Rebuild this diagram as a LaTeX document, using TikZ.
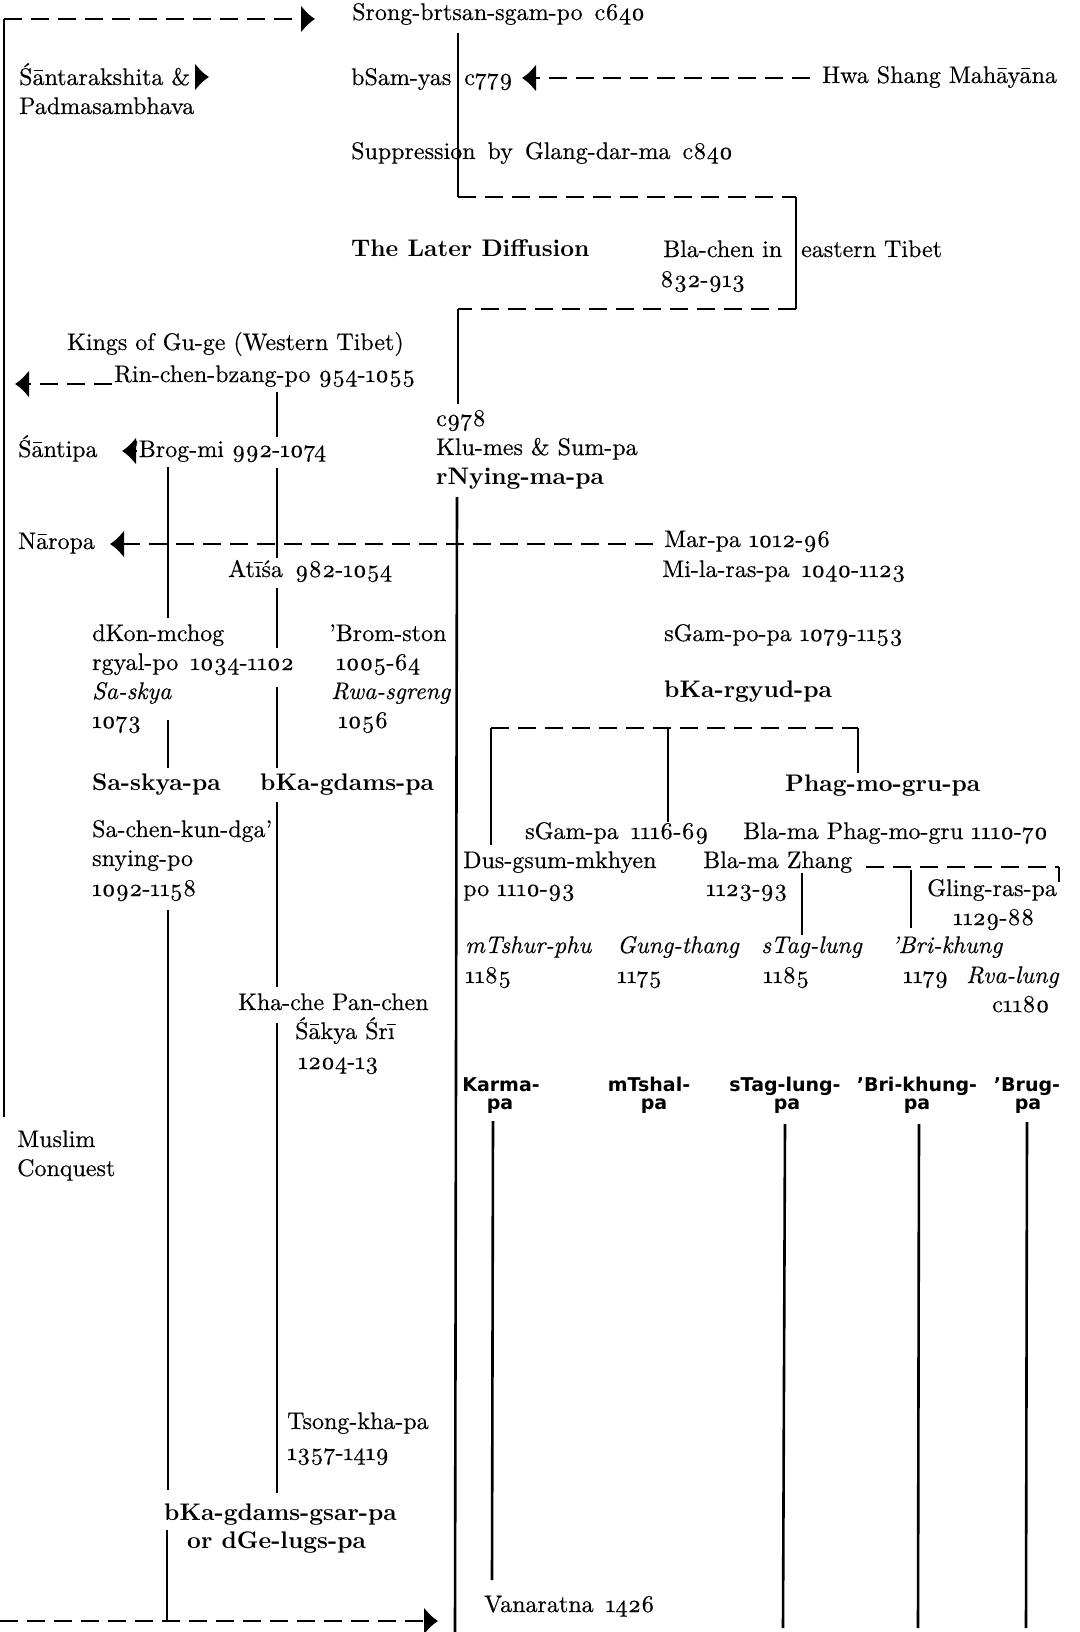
\documentclass[tikz,border=0pt]{standalone}
\usepackage{fontspec}
\setmainfont{lmroman10-regular.otf}[BoldFont=lmroman10-bold.otf,ItalicFont=lmroman10-italic.otf,BoldItalicFont=lmroman10-bolditalic.otf,Numbers=OldStyle,UprightFeatures={FakeBold=0.4},ItalicFeatures={FakeBold=0.4}]
\newfontfamily\labfont{DejaVu Sans}
\usetikzlibrary{arrows.meta}
\tikzset{
  txt/.style={anchor=base west,inner sep=0pt,font=\fontsize{24}{29}\selectfont},
  btxt/.style={anchor=base west,inner sep=0pt,font=\fontsize{24}{29}\selectfont\bfseries},
  itxt/.style={anchor=base west,inner sep=0pt,font=\fontsize{24}{29}\selectfont\itshape},
  lab/.style={anchor=base,inner sep=0pt,font=\labfont\bfseries\fontsize{19}{18}\selectfont},
  ln/.style={line width=2.6pt},
  dl/.style={line width=2.6pt,dash pattern=on 18pt off 9pt},
  arr/.style={-{Latex[length=14pt,width=28pt]}}
}
\begin{document}
\begin{tikzpicture}[x=1pt,y=-1pt]
\fill[white] (0,0) rectangle (1079,1632);
\useasboundingbox (0,0) rectangle (1079,1632);

% ---------- texts ----------
\node[txt] (srong) at (352,20) {Srong-brtsan-sgam-po\enspace c640};
\node[txt] (santa1) at (19,85) {Śāntarakshita \&};
\node[txt] (santa2) at (19,114) {Padmasambhava};
\node[txt] (bsam) at (351,85) {bSam-yas\hspace{13pt}c779};
\node[txt] (hwa) at (822,83) {Hwa Shang Mahāyāna};
\node[txt] (supp) at (351,159) {Suppression\enspace by\enspace Glang-dar-ma\enspace c840};
\node[btxt] (later) at (351,256) {The Later Diffusion};
\node[txt] (blachen) at (663,257) {Bla-chen in};
\node[txt] (eastern) at (801,257) {eastern Tibet};
\node[txt] (bla832) at (660,287) {832-913};
\node[txt] (kings) at (67,350) {Kings of Gu-ge (Western Tibet)};
\node[txt] (rinchen) at (114,382) {Rin-chen-bzang-po 954-1055};
\node[txt] (c978) at (436,426) {c978};
\node[txt] (klumes) at (436,455) {Klu-mes \& Sum-pa};
\node[btxt] (rnying) at (436,484) {rNying-ma-pa};
\node[txt] (santipa) at (18,457) {Śāntipa};
\node[txt] (brogmi) at (132,457) {’Brog-mi 992-1074};
\node[txt] (naropa) at (18,549) {Nāropa};
\node[txt] (marpa) at (664,547) {Mar-pa 1012-96};
\node[txt] (atisa) at (228,577) {Atīśa\enspace 982-1054};
\node[txt] (mila) at (662,577) {Mi-la-ras-pa\enspace 1040-1123};
\node[txt] (dkon) at (92,641) {dKon-mchog};
\node[txt] (rgyal) at (92,670) {rgyal-po\enspace 1034-1102};
\node[itxt] (saskyaI) at (92,699) {Sa-skya};
\node[txt] (y1073) at (92,728) {1073};
\node[txt] (brom) at (329,641) {’Brom-ston};
\node[txt] (y1005) at (336,670) {1005-64};
\node[itxt] (rwa) at (331,699) {Rwa-sgreng};
\node[txt] (y1056) at (338,728) {1056};
\node[txt] (sgampopa) at (664,641) {sGam-po-pa 1079-1153};
\node[btxt] (bkargyud) at (664,697) {bKa-rgyud-pa};
\node[btxt] (saskyapa) at (92,790) {Sa-skya-pa};
\node[btxt] (bkagdams) at (260,790) {bKa-gdams-pa};
\node[btxt] (phagmo) at (785,791) {Phag-mo-gru-pa};
\node[txt] (sachen) at (92,837) {Sa-chen-kun-dga’};
\node[txt] (snying) at (92,866) {snying-po};
\node[txt] (y1092) at (92,896) {1092-1158};
\node[txt] (sgampa) at (525,839) {sGam-pa\enspace 1116-69};
\node[txt] (blamaphag) at (743,839) {Bla-ma Phag-mo-gru 1110-70};
\node[txt] (dusgsum) at (463,868) {Dus-gsum-mkhyen};
\node[txt] (po1110) at (463,896) {po 1110-93};
\node[txt] (zhang) at (703,868) {Bla-ma Zhang};
\node[txt] (y1123) at (706,896) {1123-93};
\node[txt] (gling) at (927,896) {Gling-ras-pa};
\node[txt] (y1129) at (953,925) {1129-88};
\node[itxt] (mtshur) at (465,953) {mTshur-phu};
\node[txt] (y1185a) at (465,983) {1185};
\node[itxt] (gung) at (617,953) {Gung-thang};
\node[txt] (y1175) at (617,983) {1175};
\node[itxt] (stag) at (761,953) {sTag-lung};
\node[txt] (y1185b) at (763,983) {1185};
\node[itxt] (bri) at (891,953) {’Bri-khung};
\node[txt] (y1179) at (903,983) {1179};
\node[itxt] (rva) at (966,983) {Rva-lung};
\node[txt] (c1180) at (992,1012) {c1180};
\node[txt] (khache) at (238,1010) {Kha-che Pan-chen};
\node[txt] (sakya) at (295,1039) {Śākya Śrī};
\node[txt] (y1204) at (298,1069) {1204-13};
\node[txt] (muslim) at (17,1147) {Muslim};
\node[txt] (conquest) at (17,1176) {Conquest};
\node[lab] (karma1) at (501,1091) {Karma-};
\node[lab] (karma2) at (500,1109) {pa};
\node[lab] (mtshal1) at (649,1091) {mTshal-};
\node[lab] (mtshal2) at (654,1109) {pa};
\node[lab] (stagpa1) at (785,1091) {sTag-lung-};
\node[lab] (stagpa2) at (787,1109) {pa};
\node[lab] (bripa1) at (917,1091) {’Bri-khung-};
\node[lab] (bripa2) at (917,1109) {pa};
\node[lab] (brug1) at (1027,1091) {’Brug-};
\node[lab] (brug2) at (1028,1109) {pa};
\node[txt] (tsong) at (287,1429) {Tsong-kha-pa};
\node[txt] (y1357) at (287,1460) {1357-1419};
\node[btxt] (gsarpa) at (164,1520) {bKa-gdams-gsar-pa};
\node[btxt] (dgelugs) at (187,1548) {or dGe-lugs-pa};
\node[txt] (vana) at (484,1612) {Vanaratna\enspace 1426};

% ---------- coordinates ----------
\coordinate (l1) at (4,19);
\coordinate (l2) at (4,1117);
\coordinate (t1) at (315,19);
\coordinate (m1) at (458,33);
\coordinate (m2) at (458,197);
\coordinate (b1) at (796,197);
\coordinate (b2) at (796,309);
\coordinate (m3) at (458,309);
\coordinate (m4) at (458,404);
\coordinate (m5) at (457,497);
\coordinate (m6) at (455,1632);
\coordinate (hw1) at (810,78);
\coordinate (hw2) at (522,78);
\coordinate (sa1) at (195,77);
\coordinate (sa2) at (209,77);
\coordinate (rc1) at (112,384);
\coordinate (rc2) at (15,384);
\coordinate (sp1) at (137,451);
\coordinate (sp2) at (122,451);
\coordinate (np1) at (653,544);
\coordinate (np2) at (110,544);
\coordinate (bl) at (0,1621);
\coordinate (br) at (438,1621);
\coordinate (s1) at (168,467); \coordinate (s2) at (168,618);
\coordinate (s3) at (168,720); \coordinate (s4) at (168,768);
\coordinate (s5) at (168,910); \coordinate (s6) at (168,1490);
\coordinate (s7) at (167,1530); \coordinate (s8) at (167,1621);
\coordinate (k1) at (277,392); \coordinate (k2) at (277,437);
\coordinate (k3) at (277,468); \coordinate (k4) at (277,558);
\coordinate (k5) at (277,588); \coordinate (k6) at (277,648);
\coordinate (k7) at (277,687); \coordinate (k8) at (277,768);
\coordinate (k9) at (277,802); \coordinate (k10) at (277,987);
\coordinate (k11) at (277,1023); \coordinate (k12) at (277,1493);
\coordinate (g1) at (491,728); \coordinate (g2) at (491,845);
\coordinate (gm1) at (668,728); \coordinate (gm2) at (668,822);
\coordinate (g3) at (858,728); \coordinate (g4) at (858,773);
\coordinate (z1) at (866,867); \coordinate (z2) at (1059,867); \coordinate (z3) at (1059,882);
\coordinate (bv1) at (911,870); \coordinate (bv2) at (911,928);
\coordinate (zv1) at (802,873); \coordinate (zv2) at (802,935);
\coordinate (ka1) at (493,1121); \coordinate (ka2) at (492,1580);
\coordinate (st1) at (785,1124); \coordinate (st2) at (783,1628);
\coordinate (br1) at (919,1124); \coordinate (br2) at (918,1628);
\coordinate (bg1) at (1027,1122); \coordinate (bg2) at (1026,1628);

% ---------- connectors ----------
\draw[ln] (l1) -- (l2);
\draw[dl,arr] (l1) -- (t1);
\draw[ln] (m1) -- (m2);
\draw[dl] (m2) -- (b1);
\draw[ln] (b1) -- (b2);
\draw[dl] (b2) -- (m3);
\draw[ln] (m3) -- (m4);
\draw[ln] (m5) -- (m6);
\draw[dl,arr] (hw1) -- (hw2);
\draw[ln,arr] (sa1) -- (sa2);
\draw[dl,arr] (rc1) -- (rc2);
\draw[ln,arr] (sp1) -- (sp2);
\draw[dl,arr] (np1) -- (np2);
\draw[dl,arr] (bl) -- (br);
\foreach \a/\b in {s1/s2,s3/s4,s5/s6,s7/s8,k1/k2,k3/k4,k5/k6,k7/k8,k9/k10,k11/k12,g1/g2,gm1/gm2,g3/g4,z2/z3,bv1/bv2,zv1/zv2,ka1/ka2,st1/st2,br1/br2,bg1/bg2}
  \draw[ln] (\a) -- (\b);
\draw[dl] (g1) -- (g3);
\draw[dl] (z1) -- (z2);
\end{tikzpicture}
\end{document}
